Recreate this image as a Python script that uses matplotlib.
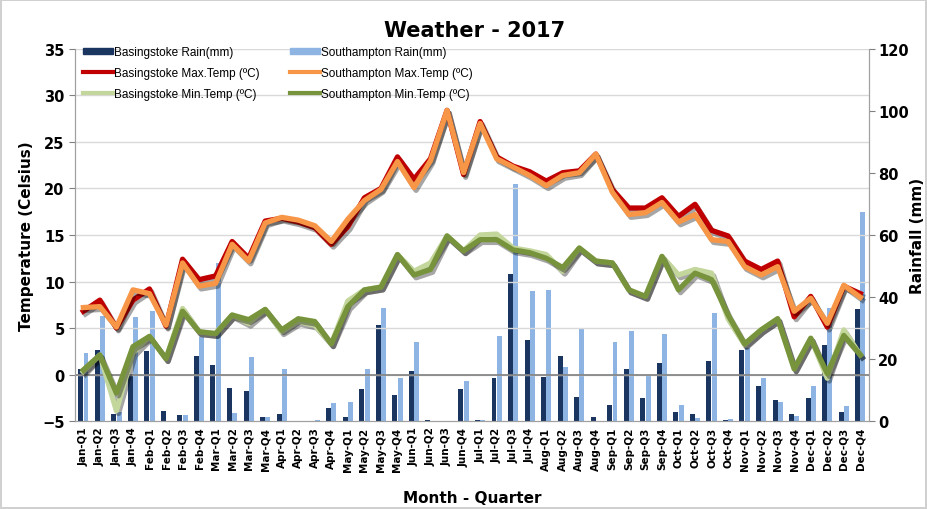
import numpy as np
import matplotlib.pyplot as plt
import matplotlib.patheffects as pe
from matplotlib.lines import Line2D
from matplotlib.patches import Patch

months = ["Jan", "Feb", "Mar", "Apr", "May", "Jun", "Jul", "Aug", "Sep", "Oct", "Nov", "Dec"]
labels = [m + "-Q" + str(q) for m in months for q in range(1, 5)]

# rainfall (mm), right axis
bas_rain = [16.8, 23.0, 2.3, 14.6, 22.5, 3.3, 1.9, 21.1,
            18.2, 10.5, 9.8, 1.4, 2.3, 0.0, 0.0, 4.1,
            1.2, 10.3, 31.0, 8.5, 16.0, 0.3, 0.0, 10.3,
            0.3, 13.8, 47.4, 26.2, 14.3, 21.1, 7.6, 1.2,
            5.2, 16.8, 7.3, 18.6, 2.8, 2.3, 19.2, 0.3,
            23.0, 11.4, 6.9, 2.3, 7.3, 24.5, 3.0, 36.1]
sot_rain = [21.8, 34.0, 3.0, 33.4, 35.6, 0.0, 1.9, 27.0,
            50.9, 2.6, 20.8, 1.4, 16.8, 0.0, 0.3, 5.8,
            6.2, 16.8, 36.5, 13.9, 25.5, 0.0, 0.0, 12.8,
            0.3, 27.3, 76.5, 41.8, 42.3, 17.5, 29.7, 0.0,
            25.4, 29.1, 14.6, 28.1, 5.2, 1.0, 34.9, 0.6,
            23.5, 13.9, 6.2, 1.5, 11.4, 36.5, 4.7, 67.3]

# temperatures (deg C), left axis
bas_max = [6.8, 8.0, 5.0, 8.0, 9.2, 5.2, 12.4, 10.2,
           10.6, 14.3, 12.5, 16.5, 16.8, 16.4, 15.8, 14.0,
           15.9, 19.0, 20.0, 23.4, 21.0, 23.2, 28.4, 21.5,
           27.2, 23.4, 22.4, 21.8, 20.8, 21.7, 21.9, 23.7,
           19.9, 17.9, 17.9, 19.0, 17.0, 18.3, 15.5, 14.9,
           12.2, 11.3, 12.2, 6.2, 8.4, 5.1, 9.5, 8.7]
sot_max = [7.2, 7.3, 5.1, 9.1, 8.7, 5.3, 12.0, 9.5,
           9.8, 14.0, 12.2, 16.3, 16.9, 16.6, 16.0, 14.3,
           16.7, 18.7, 19.9, 22.9, 20.1, 23.0, 28.4, 21.7,
           27.0, 23.2, 22.3, 21.4, 20.3, 21.4, 21.7, 23.7,
           19.6, 17.2, 17.4, 18.5, 16.4, 17.2, 14.5, 14.3,
           11.6, 10.7, 11.6, 6.8, 8.2, 5.5, 9.6, 8.3]
bas_min = [0.3, 2.1, -3.9, 2.3, 4.1, 1.7, 7.1, 4.6,
           4.4, 6.4, 5.5, 7.0, 4.6, 5.7, 5.3, 3.3,
           7.9, 9.1, 9.4, 12.9, 11.1, 12.0, 14.9, 13.3,
           15.0, 15.1, 13.6, 13.3, 12.9, 11.1, 13.6, 12.2,
           12.0, 9.1, 8.4, 12.7, 10.7, 11.3, 10.9, 6.0,
           3.2, 4.8, 6.0, 0.6, 3.9, -0.4, 4.8, 2.1]
sot_min = [0.5, 2.1, -2.0, 3.0, 4.1, 1.7, 6.8, 4.6,
           4.4, 6.4, 5.9, 7.0, 4.8, 6.0, 5.7, 3.3,
           7.3, 9.1, 9.4, 12.9, 10.7, 11.3, 14.9, 13.3,
           14.5, 14.5, 13.4, 13.1, 12.5, 11.5, 13.6, 12.2,
           12.0, 9.1, 8.4, 12.7, 9.1, 10.9, 10.2, 6.4,
           3.3, 4.8, 6.0, 0.6, 3.9, 0.1, 4.2, 2.1]

x = np.arange(len(labels))

fig = plt.figure(figsize=(9.27, 5.1), dpi=100)
fig.patch.set_edgecolor("#d0d0d0")
fig.patch.set_linewidth(1.5)
ax = fig.add_axes([0.081, 0.1725, 0.856, 0.7295])
ax_r = ax.twinx()
ax.set_zorder(ax_r.get_zorder() + 1)
ax.patch.set_visible(False)

c_br, c_sr = "#1a3560", "#8db4e2"
c_bx, c_sx = "#c00000", "#f79646"
c_bn, c_sn = "#c3d69b", "#77933c"

# bars
ax_r.bar(x - 0.16, bas_rain, width=0.3, color=c_br)
ax_r.bar(x + 0.16, sot_rain, width=0.3, color=c_sr)
ax_r.set_ylim(0, 120)
ax_r.set_yticks(range(0, 121, 20))

# lines
shadow = [pe.SimpleLineShadow(offset=(1.5, -2), shadow_color="k", alpha=0.35), pe.Normal()]
ax.plot(x, bas_max, color=c_bx, lw=3.8, path_effects=shadow)
ax.plot(x, sot_max, color=c_sx, lw=3.8, path_effects=shadow)
ax.plot(x, bas_min, color=c_bn, lw=3.8, path_effects=shadow)
ax.plot(x, sot_min, color=c_sn, lw=3.8, path_effects=shadow)

ax.set_ylim(-5, 35)
ax.set_yticks(range(-5, 36, 5))
ax.set_xlim(-0.5, len(labels) - 0.5)
for v in range(0, 36, 5):
    ax.axhline(v, color="#d9d9d9", lw=1, zorder=0)
ax.axhline(0, color="#808080", lw=1.2, zorder=0.5)

ax.set_xticks(x)
ax.set_xticklabels(labels, rotation=90, fontsize=7.5, fontweight="bold")
ax.tick_params(axis="x", length=0, pad=4)
ax.tick_params(axis="y", labelsize=10.5, direction="out", length=4, color="#808080")
ax_r.tick_params(axis="y", labelsize=10.5, direction="out", length=4, color="#808080", pad=3)
for t in ax.get_yticklabels() + ax_r.get_yticklabels():
    t.set_fontweight("bold")

for a in (ax, ax_r):
    a.spines["top"].set_visible(False)
    for s in ("left", "right", "bottom"):
        a.spines[s].set_color("#a0a0a0")

ax.set_ylabel("Temperature (Celsius)", fontsize=11, fontweight="bold", labelpad=6)
ax_r.set_ylabel("Rainfall (mm)", fontsize=11, fontweight="bold", labelpad=1)
ax.set_xlabel("Month - Quarter", fontsize=11, fontweight="bold", labelpad=14)
fig.text(0.512, 0.94, "Weather - 2017", ha="center", va="center", fontsize=15, fontweight="bold")

handles = [Patch(color=c_br), Line2D([], [], color=c_bx, lw=3), Line2D([], [], color=c_bn, lw=3),
           Patch(color=c_sr), Line2D([], [], color=c_sx, lw=3), Line2D([], [], color=c_sn, lw=3)]
names = ["Basingstoke Rain(mm)", "Basingstoke Max.Temp (ºC)", "Basingstoke Min.Temp (ºC)",
         "Southampton Rain(mm)", "Southampton Max.Temp (ºC)", "Southampton Min.Temp (ºC)"]
ax.legend(handles, names, ncol=2, loc="upper left", bbox_to_anchor=(0.0, 1.03),
          frameon=False, prop={"family": ["Liberation Sans", "DejaVu Sans"], "size": 8.5},
          handlelength=2.5, handleheight=0.5, columnspacing=2.6, labelspacing=0.75,
          handletextpad=0.1, borderaxespad=0.3)

fig.savefig("out.png", dpi=100)
